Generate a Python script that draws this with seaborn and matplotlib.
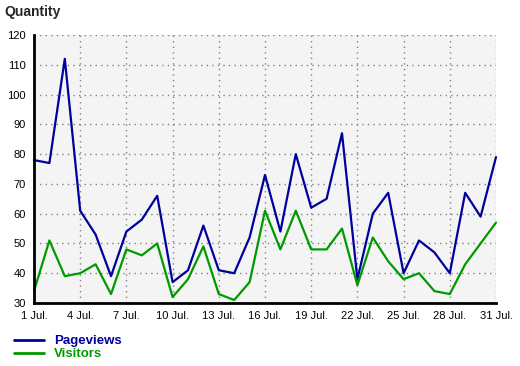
import matplotlib
matplotlib.use("Agg")
import matplotlib.pyplot as plt
import seaborn as sns
import pandas as pd
from matplotlib.lines import Line2D

days = list(range(1, 32))
pageviews = [78, 77, 112, 61, 53, 39, 54, 58, 66, 37, 41, 56, 41, 40, 52, 73,
             54, 80, 62, 65, 87, 38, 60, 67, 40, 51, 47, 40, 67, 59, 79]
visitors = [34, 51, 39, 40, 43, 33, 48, 46, 50, 32, 38, 49, 33, 31, 37, 61,
            48, 61, 48, 48, 55, 36, 52, 44, 38, 40, 34, 33, 43, 50, 57]
series_names = ["Pageviews", "Visitors"]
colors = ["#00009c", "#009a00"]
xticks = list(range(1, 32, 3))
xtick_labels = [f"{d} Jul." for d in xticks]
yticks = list(range(30, 121, 10))

df = pd.DataFrame({
    "day": days * 2,
    "value": pageviews + visitors,
    "series": [series_names[0]] * len(days) + [series_names[1]] * len(days),
})

sns.set_style("white")
plt.rcParams["font.family"] = ["Liberation Sans", "DejaVu Sans"]

fig = plt.figure(figsize=(5.2, 3.66), dpi=100)
ax = fig.add_axes([34 / 520, 1 - 303 / 366, 462 / 520, 268 / 366])
ax.set_facecolor("#f4f4f4")

sns.lineplot(data=df, x="day", y="value", hue="series", palette=colors,
             linewidth=1.6, ax=ax, legend=False)
for ln in ax.get_lines():
    ln.set_clip_on(False)

ax.set_xlim(1, 31)
ax.set_ylim(30, 120)
ax.set_xticks(xticks)
ax.set_xticklabels(xtick_labels)
ax.set_yticks(yticks)
ax.tick_params(axis="both", labelsize=8, length=4, width=1.5, color="black",
               direction="out", pad=2, labelcolor="black")
ax.grid(True, linestyle=(0, (1, 3)), color="#808080", linewidth=1)
ax.set_axisbelow(True)
ax.set_xlabel("")
ax.set_ylabel("")
for s in ["top", "right"]:
    ax.spines[s].set_visible(False)
for s in ["left", "bottom"]:
    ax.spines[s].set_color("black")
    ax.spines[s].set_linewidth(2)

fig.text(4 / 520, 1 - 12 / 366, "Quantity", fontsize=10, fontweight="bold",
         va="center", ha="left")

handles = [Line2D([0], [0], color=c, lw=2) for c in colors]
leg = fig.legend(handles, series_names, loc="upper left",
                 bbox_to_anchor=(14 / 520, 1 - 335 / 366), frameon=False,
                 prop={"weight": "bold", "size": 9.5}, labelcolor=colors,
                 handlelength=2.3, handletextpad=0.76, labelspacing=0.05,
                 borderpad=0, borderaxespad=0)

fig.savefig("out.png", dpi=100)
